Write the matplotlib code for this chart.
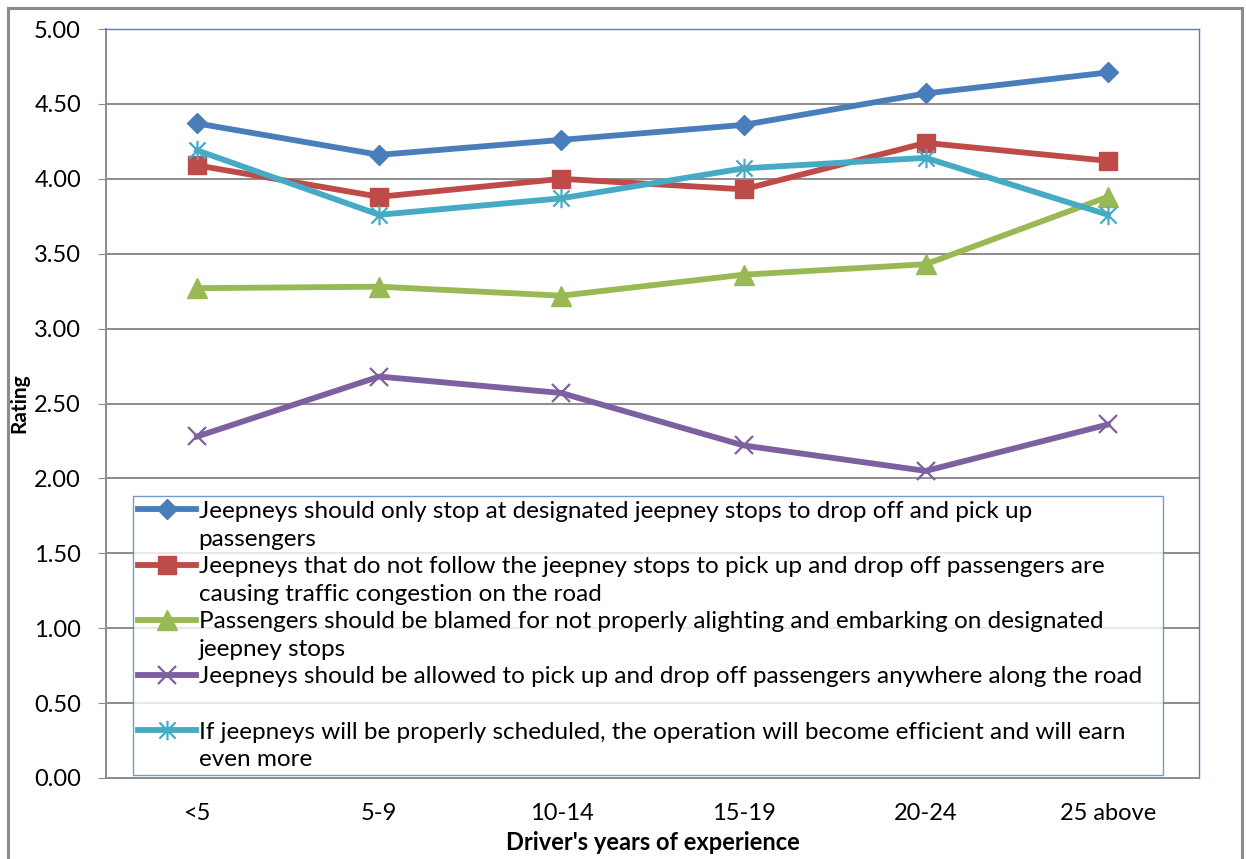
import matplotlib
matplotlib.use("Agg")
import matplotlib.pyplot as plt
from matplotlib.path import Path
from matplotlib.patches import Rectangle
from matplotlib.lines import Line2D

plt.rcParams['font.family'] = ['Lato', 'DejaVu Sans']

categories = ["<5", "5-9", "10-14", "15-19", "20-24", "25 above"]
stop_designated = [4.37, 4.16, 4.26, 4.36, 4.57, 4.71]
not_follow_congestion = [4.09, 3.88, 4.00, 3.93, 4.24, 4.12]
blame_passengers = [3.27, 3.28, 3.22, 3.36, 3.43, 3.88]
allowed_anywhere = [2.28, 2.68, 2.57, 2.22, 2.05, 2.36]
properly_scheduled = [4.19, 3.76, 3.87, 4.07, 4.14, 3.76]

labels = [
    ("Jeepneys should only stop at designated jeepney stops to drop off and pick up", "passengers"),
    ("Jeepneys that do not follow the jeepney stops to pick up and drop off passengers are",
     "causing traffic congestion on the road"),
    ("Passengers should be blamed for not properly alighting and embarking on designated", "jeepney stops"),
    ("Jeepneys should be allowed to pick up and drop off passengers anywhere along the road", " "),
    ("If jeepneys will be properly scheduled, the operation will become efficient and will earn", "even more"),
]
series = [stop_designated, not_follow_congestion, blame_passengers, allowed_anywhere, properly_scheduled]
colors = ["#4A7EBB", "#BE4B48", "#98B954", "#7D60A0", "#46AAC5"]

star = Path([(-0.5, -0.5), (0.5, 0.5), (-0.5, 0.5), (0.5, -0.5), (0, -0.6), (0, 0.6)],
            [Path.MOVETO, Path.LINETO, Path.MOVETO, Path.LINETO, Path.MOVETO, Path.LINETO])
markers = ["D", "s", "^", "x", star]
msizes = [10.5, 13, 14, 13, 14]

fig = plt.figure(figsize=(12.46, 8.59), dpi=100)
fig.patches.append(Rectangle((0.0065, -0.05), 0.9905, 1.0407, transform=fig.transFigure,
                             fill=False, edgecolor="#8C8C8C", linewidth=2.2))
ax = fig.add_axes([0.0851, 0.0943, 0.8772, 0.8719])

x = list(range(len(categories)))
handles, texts = [], []
for vals, c, m, ms, lab in zip(series, colors, markers, msizes, labels):
    kw = dict(markerfacecolor=c, markeredgecolor=c)
    if m == "x" or m is star:
        kw = dict(markeredgecolor=c, markeredgewidth=1.6, markerfacecolor="none")
    h, = ax.plot(x, vals, color=c, linewidth=4.2, marker=m, markersize=ms,
                 solid_joinstyle="round", **kw)
    handles.append(h)
    texts.append(lab[0])
    handles.append(Line2D([], [], color="none"))
    texts.append(lab[1])

ax.set_xlim(-0.5, len(categories) - 0.5)
ax.set_ylim(0, 5)
ax.set_yticks([i * 0.5 for i in range(11)])
ax.set_yticklabels([f"{i * 0.5:.2f}" for i in range(11)])
ax.set_xticks(x)
ax.set_xticklabels(categories)
ax.tick_params(axis='y', labelsize=17, length=6, color="#8C8C8C", pad=12)
ax.tick_params(axis='x', labelsize=17, length=0, pad=18)
ax.yaxis.grid(True, color="#8C8C8C", linewidth=1.4)
ax.set_axisbelow(True)
for s in ["top", "right"]:
    ax.spines[s].set_color("#4F81BD")
    ax.spines[s].set_linewidth(1.0)
for s in ["left", "bottom"]:
    ax.spines[s].set_color("#8C8C8C")
    ax.spines[s].set_linewidth(1.4)

ax.set_ylabel("Rating", fontsize=15, fontweight="bold", labelpad=3)
ax.set_xlabel("Driver's years of experience", fontsize=17, fontweight="bold", labelpad=5)

leg = ax.legend(handles, texts, loc="lower left", bbox_to_anchor=(0.0247, 0.004, 0.942, 0.385),
                mode="expand", fontsize=17.5, frameon=True, fancybox=False, borderaxespad=0,
                handlelength=2.4, handletextpad=0.1, labelspacing=0.27, borderpad=0.2)
leg.get_frame().set_edgecolor("#4F81BD")
leg.get_frame().set_linewidth(1.0)

fig.savefig("out.png", dpi=100)
